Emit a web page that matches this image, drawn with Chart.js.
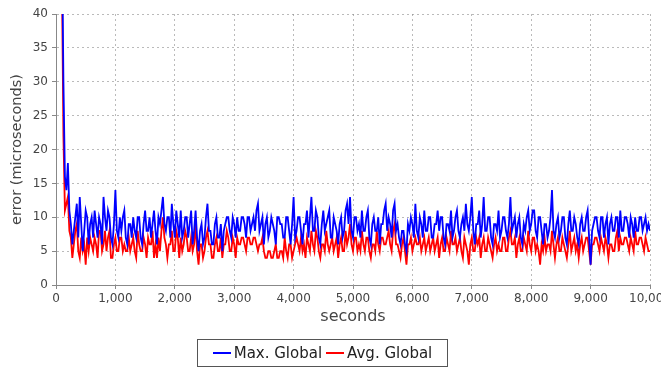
<!DOCTYPE html>
<html lang="en">
<head>
    <meta charset="UTF-8">
    <title>Clock error over time</title>
    <style>
        * {
            margin: 0;
            padding: 0;
            box-sizing: border-box;
        }

        body {
            width: 661px;
            height: 369px;
            overflow: hidden;
            background: #fff;
            position: relative;
            font-family: 'DejaVu Sans', sans-serif;
        }

        .chart-box {
            position: absolute;
            left: 0;
            top: 0;
            width: 700px;
            height: 369px;
        }

        .legend {
            position: absolute;
            left: 197px;
            top: 339px;
            width: 251px;
            height: 28px;
            border: 1px solid #555;
            display: flex;
            align-items: center;
            justify-content: center;
            font-size: 15px;
            color: #222;
        }

        .legend-item {
            display: flex;
            align-items: center;
            margin: 0 2px;
        }

        .legend-line {
            width: 18px;
            height: 2px;
            margin-right: 3px;
        }
    </style>
</head>
<body>
    <div class="chart-box">
        <canvas id="errorChart"></canvas>
    </div>
    <div class="legend" id="legend"></div>

    <script src="https://cdn.jsdelivr.net/npm/chart.js@4.4.0/dist/chart.umd.min.js"></script>
    <script>
        // Sample times (seconds)
        const seconds = [
            100, 125, 150, 175, 200, 225, 250, 275, 300, 325, 350, 375, 400, 425, 450, 475, 500, 525, 550, 575,
            600, 625, 650, 675, 700, 725, 750, 775, 800, 825, 850, 875, 900, 925, 950, 975, 1000, 1025, 1050, 1075,
            1100, 1125, 1150, 1175, 1200, 1225, 1250, 1275, 1300, 1325, 1350, 1375, 1400, 1425, 1450, 1475, 1500, 1525, 1550, 1575,
            1600, 1625, 1650, 1675, 1700, 1725, 1750, 1775, 1800, 1825, 1850, 1875, 1900, 1925, 1950, 1975, 2000, 2025, 2050, 2075,
            2100, 2125, 2150, 2175, 2200, 2225, 2250, 2275, 2300, 2325, 2350, 2375, 2400, 2425, 2450, 2475, 2500, 2525, 2550, 2575,
            2600, 2625, 2650, 2675, 2700, 2725, 2750, 2775, 2800, 2825, 2850, 2875, 2900, 2925, 2950, 2975, 3000, 3025, 3050, 3075,
            3100, 3125, 3150, 3175, 3200, 3225, 3250, 3275, 3300, 3325, 3350, 3375, 3400, 3425, 3450, 3475, 3500, 3525, 3550, 3575,
            3600, 3625, 3650, 3675, 3700, 3725, 3750, 3775, 3800, 3825, 3850, 3875, 3900, 3925, 3950, 3975, 4000, 4025, 4050, 4075,
            4100, 4125, 4150, 4175, 4200, 4225, 4250, 4275, 4300, 4325, 4350, 4375, 4400, 4425, 4450, 4475, 4500, 4525, 4550, 4575,
            4600, 4625, 4650, 4675, 4700, 4725, 4750, 4775, 4800, 4825, 4850, 4875, 4900, 4925, 4950, 4975, 5000, 5025, 5050, 5075,
            5100, 5125, 5150, 5175, 5200, 5225, 5250, 5275, 5300, 5325, 5350, 5375, 5400, 5425, 5450, 5475, 5500, 5525, 5550, 5575,
            5600, 5625, 5650, 5675, 5700, 5725, 5750, 5775, 5800, 5825, 5850, 5875, 5900, 5925, 5950, 5975, 6000, 6025, 6050, 6075,
            6100, 6125, 6150, 6175, 6200, 6225, 6250, 6275, 6300, 6325, 6350, 6375, 6400, 6425, 6450, 6475, 6500, 6525, 6550, 6575,
            6600, 6625, 6650, 6675, 6700, 6725, 6750, 6775, 6800, 6825, 6850, 6875, 6900, 6925, 6950, 6975, 7000, 7025, 7050, 7075,
            7100, 7125, 7150, 7175, 7200, 7225, 7250, 7275, 7300, 7325, 7350, 7375, 7400, 7425, 7450, 7475, 7500, 7525, 7550, 7575,
            7600, 7625, 7650, 7675, 7700, 7725, 7750, 7775, 7800, 7825, 7850, 7875, 7900, 7925, 7950, 7975, 8000, 8025, 8050, 8075,
            8100, 8125, 8150, 8175, 8200, 8225, 8250, 8275, 8300, 8325, 8350, 8375, 8400, 8425, 8450, 8475, 8500, 8525, 8550, 8575,
            8600, 8625, 8650, 8675, 8700, 8725, 8750, 8775, 8800, 8825, 8850, 8875, 8900, 8925, 8950, 8975, 9000, 9025, 9050, 9075,
            9100, 9125, 9150, 9175, 9200, 9225, 9250, 9275, 9300, 9325, 9350, 9375, 9400, 9425, 9450, 9475, 9500, 9525, 9550, 9575,
            9600, 9625, 9650, 9675, 9700, 9725, 9750, 9775, 9800, 9825, 9850, 9875, 9900, 9925, 9950, 9975, 10000
        ];

        // Max. Global error (microseconds), one row per 1000 s
        const maxGlobal = [
            52, 30, 16, 14, 18, 11, 9, 6, 8, 10, 12, 7, 13, 9, 5, 8, 11, 10, 6, 9, 10, 7, 11, 9, 7, 10, 9, 6, 13, 10, 8, 11, 10, 7, 6, 9, 14, 8, 7, 10,
            8, 10, 11, 7, 6, 9, 9, 7, 10, 8, 7, 10, 10, 7, 6, 9, 11, 8, 8, 10, 7, 9, 11, 8, 6, 10, 9, 11, 13, 9, 8, 10, 10, 7, 12, 9, 7, 11, 9, 7,
            11, 7, 8, 10, 10, 7, 9, 11, 6, 8, 11, 7, 5, 8, 9, 6, 7, 10, 12, 8, 8, 6, 6, 9, 10, 7, 7, 9, 5, 8, 9, 10, 10, 8, 7, 10, 9, 7, 10, 8,
            8, 10, 10, 9, 7, 10, 10, 8, 9, 10, 8, 11, 12, 8, 9, 10, 6, 9, 10, 7, 8, 10, 9, 8, 6, 10, 10, 9, 9, 7, 7, 10, 10, 8, 6, 9, 13, 7, 8, 10,
            10, 8, 6, 9, 9, 11, 7, 10, 13, 8, 8, 11, 10, 7, 6, 9, 11, 8, 9, 10, 11, 7, 7, 10, 9, 8, 6, 9, 10, 7, 8, 11, 12, 9, 13, 8, 7, 10, 10, 8,
            9, 7, 11, 8, 8, 10, 11, 7, 6, 9, 10, 8, 8, 10, 6, 9, 9, 11, 12, 8, 10, 9, 7, 11, 12, 8, 9, 7, 6, 8, 8, 6, 5, 9, 8, 10, 9, 7, 12, 8,
            7, 10, 9, 7, 11, 8, 8, 10, 10, 7, 7, 9, 9, 11, 8, 10, 10, 7, 6, 9, 9, 8, 11, 7, 8, 10, 11, 8, 7, 9, 10, 8, 12, 9, 8, 10, 13, 8, 6, 9,
            9, 11, 7, 9, 13, 8, 8, 10, 10, 7, 6, 9, 9, 8, 11, 7, 8, 10, 10, 8, 7, 9, 13, 8, 9, 10, 7, 9, 10, 7, 6, 9, 8, 10, 11, 8, 9, 11, 11, 8,
            7, 10, 10, 8, 6, 9, 9, 7, 8, 10, 14, 8, 7, 9, 10, 7, 8, 10, 10, 7, 6, 9, 11, 8, 8, 10, 9, 7, 6, 9, 10, 8, 8, 10, 11, 7, 3, 8, 9, 10,
            10, 8, 7, 10, 10, 7, 9, 10, 6, 9, 10, 8, 8, 10, 10, 7, 11, 8, 8, 10, 10, 9, 7, 10, 9, 7, 10, 8, 8, 10, 10, 8, 9, 10, 8, 9, 8
        ];

        // Avg. Global error (microseconds), one row per 1000 s
        const avgGlobal = [
            45, 22, 11, 12, 13, 8, 7, 4, 6, 8, 9, 5, 4, 7, 5, 6, 3, 7, 5, 7, 6, 5, 7, 6, 4, 8, 8, 5, 6, 8, 5, 7, 8, 4, 4, 6, 7, 5, 5, 7,
            7, 5, 6, 5, 5, 7, 5, 6, 7, 5, 4, 8, 6, 5, 5, 7, 6, 4, 7, 6, 6, 8, 4, 6, 4, 7, 5, 8, 10, 7, 6, 4, 6, 6, 8, 5, 5, 8, 7, 4,
            7, 5, 6, 8, 7, 5, 5, 7, 5, 6, 9, 5, 3, 6, 6, 4, 5, 7, 8, 6, 6, 4, 4, 6, 7, 5, 5, 7, 4, 6, 6, 8, 7, 5, 5, 7, 6, 4, 7, 6,
            6, 7, 7, 6, 5, 7, 7, 6, 6, 7, 7, 6, 5, 6, 6, 7, 5, 4, 4, 5, 5, 4, 4, 5, 6, 4, 4, 5, 5, 4, 7, 5, 4, 6, 6, 4, 5, 6, 7, 6,
            5, 7, 5, 6, 4, 7, 6, 5, 8, 6, 5, 8, 7, 5, 4, 6, 6, 5, 8, 6, 5, 6, 7, 5, 6, 7, 4, 6, 7, 5, 5, 8, 6, 7, 9, 6, 5, 7, 7, 5,
            6, 5, 8, 6, 5, 7, 7, 5, 4, 6, 6, 5, 8, 6, 5, 7, 7, 6, 6, 7, 8, 6, 5, 8, 9, 6, 6, 5, 4, 6, 7, 5, 3, 6, 6, 7, 5, 6, 7, 6,
            6, 7, 5, 6, 7, 5, 6, 7, 5, 6, 7, 5, 6, 7, 4, 6, 7, 5, 5, 7, 6, 5, 8, 6, 6, 7, 5, 6, 7, 5, 4, 7, 6, 5, 3, 6, 7, 5, 5, 7,
            6, 7, 4, 6, 7, 5, 5, 7, 6, 5, 4, 6, 7, 5, 6, 5, 5, 7, 7, 5, 5, 7, 8, 6, 6, 7, 4, 6, 7, 5, 5, 7, 6, 5, 8, 6, 5, 7, 7, 5,
            6, 5, 3, 6, 5, 7, 5, 6, 6, 5, 8, 6, 4, 6, 7, 5, 5, 7, 6, 5, 4, 6, 8, 5, 6, 7, 5, 6, 4, 6, 7, 5, 6, 7, 7, 5, 3, 6, 6, 7,
            7, 6, 5, 7, 6, 5, 7, 6, 4, 6, 6, 5, 5, 7, 8, 5, 7, 6, 6, 7, 7, 6, 5, 7, 6, 5, 8, 6, 6, 7, 7, 6, 5, 7, 6, 5, 5
        ];

        const seriesNames = ['Max. Global', 'Avg. Global'];
        const seriesColors = ['#0000ff', '#ff0000'];

        const toPoints = values => values.map((v, i) => ({ x: seconds[i], y: v }));

        const gridColor = 'rgba(140, 140, 140, 0.6)';
        const textColor = '#444';

        const chart = new Chart(document.getElementById('errorChart'), {
            type: 'line',
            data: {
                datasets: [
                    {
                        label: seriesNames[0],
                        data: toPoints(maxGlobal),
                        borderColor: seriesColors[0],
                        borderWidth: 1.8,
                        pointRadius: 0,
                        tension: 0
                    },
                    {
                        label: seriesNames[1],
                        data: toPoints(avgGlobal),
                        borderColor: seriesColors[1],
                        borderWidth: 1.8,
                        pointRadius: 0,
                        tension: 0
                    }
                ]
            },
            options: {
                responsive: true,
                maintainAspectRatio: false,
                animation: false,
                layout: {
                    padding: { top: 14, left: 0, right: 50, bottom: 41 }
                },
                plugins: {
                    legend: { display: false },
                    tooltip: { enabled: false }
                },
                scales: {
                    x: {
                        type: 'linear',
                        min: 0,
                        max: 10000,
                        afterFit: scale => { scale.height = 43; },
                        ticks: {
                            stepSize: 1000,
                            maxRotation: 0,
                            padding: 3,
                            color: textColor,
                            font: { family: 'DejaVu Sans', size: 12 }
                        },
                        grid: {
                            color: gridColor,
                            tickLength: 4,
                            tickColor: '#888',
                            tickBorderDash: []
                        },
                        border: { color: '#888', width: 1, dash: [2, 3] },
                        title: {
                            display: true,
                            text: 'seconds',
                            color: textColor,
                            padding: { top: 0, bottom: 2 },
                            font: { family: 'DejaVu Sans', size: 16 }
                        }
                    },
                    y: {
                        min: 0,
                        max: 40,
                        afterFit: scale => { scale.width = 56; },
                        ticks: {
                            stepSize: 5,
                            padding: 4,
                            color: textColor,
                            font: { family: 'DejaVu Sans', size: 12 }
                        },
                        grid: {
                            color: gridColor,
                            tickLength: 4,
                            tickColor: '#888',
                            tickBorderDash: []
                        },
                        border: { color: '#888', width: 1, dash: [2, 3] },
                        title: {
                            display: true,
                            text: 'error (microseconds)',
                            color: textColor,
                            padding: { top: 9, bottom: 0 },
                            font: { family: 'DejaVu Sans', size: 14.5 }
                        }
                    }
                }
            }
        });

        // Legend built from the datasets
        const legend = document.getElementById('legend');
        chart.data.datasets.forEach(ds => {
            const item = document.createElement('div');
            item.className = 'legend-item';
            const line = document.createElement('span');
            line.className = 'legend-line';
            line.style.background = ds.borderColor;
            const text = document.createElement('span');
            text.textContent = ds.label;
            item.appendChild(line);
            item.appendChild(text);
            legend.appendChild(item);
        });
    </script>
</body>
</html>
